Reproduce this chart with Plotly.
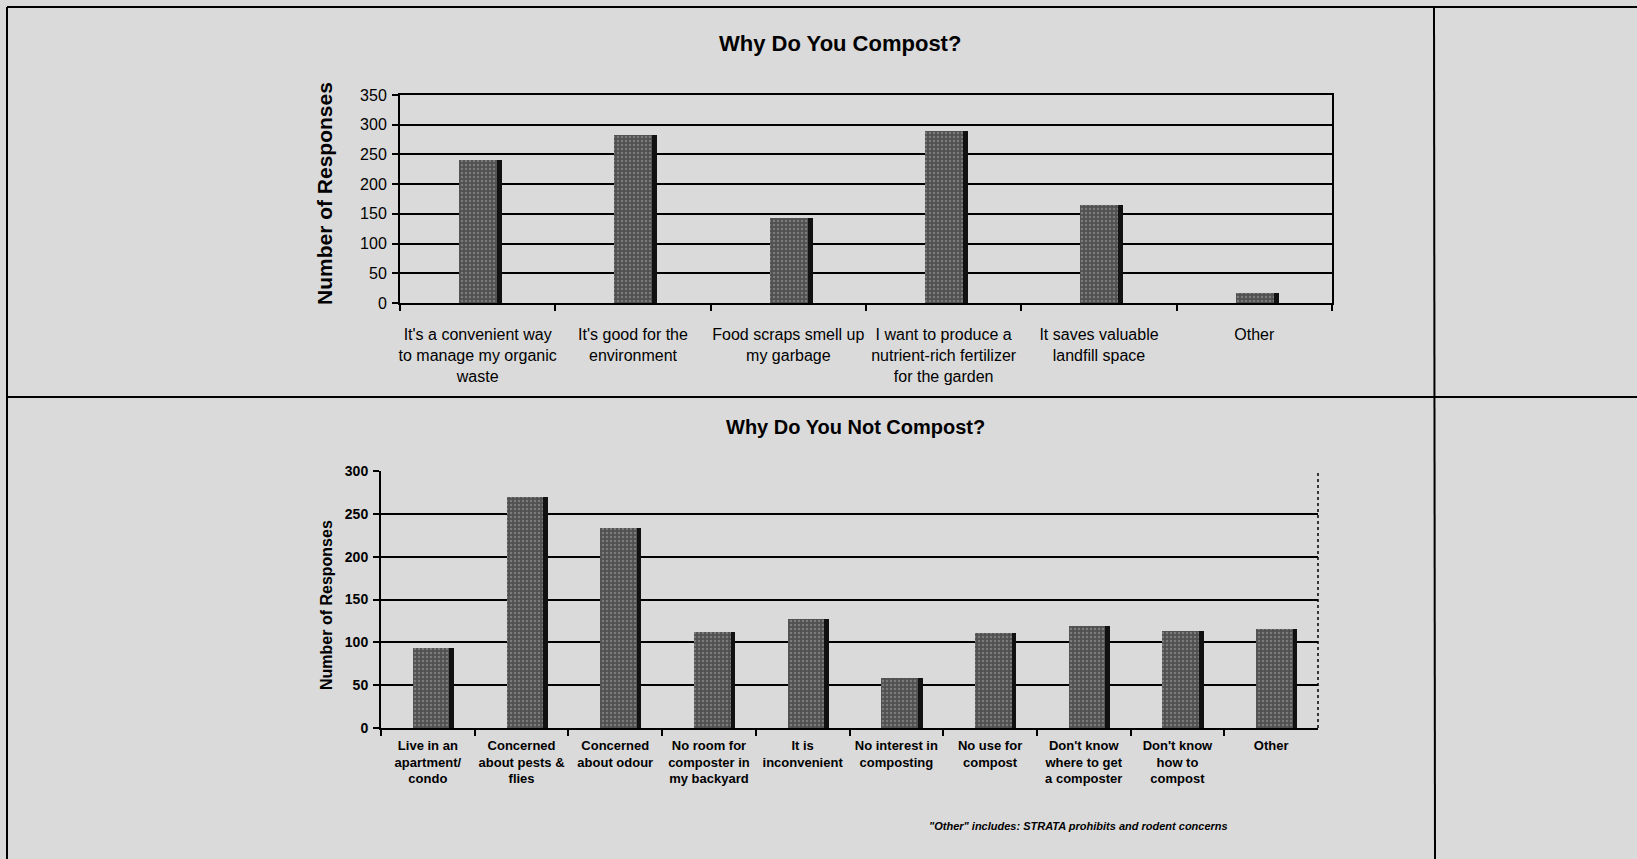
import plotly.graph_objects as go

W, H = 1637, 859

# ---- data ----
why_cats = [
    "It's a convenient way<br>to manage my organic<br>waste",
    "It's good for the<br>environment",
    "Food scraps smell up<br>my garbage",
    "I want to produce a<br>nutrient-rich fertilizer<br>for the garden",
    "It saves valuable<br>landfill space",
    "Other",
]
why_vals = [240, 282, 143, 290, 165, 17]
why_yticks = [0, 50, 100, 150, 200, 250, 300, 350]

whynot_cats = [
    "Live in an<br>apartment/<br>condo",
    "Concerned<br>about pests &<br>flies",
    "Concerned<br>about odour",
    "No room for<br>composter in<br>my backyard",
    "It is<br>inconvenient",
    "No interest in<br>composting",
    "No use for<br>compost",
    "Don't know<br>where to get<br>a composter",
    "Don't know<br>how to<br>compost",
    "Other",
]
whynot_vals = [93, 270, 234, 112, 127, 58, 111, 119, 113, 115]
whynot_yticks = [0, 50, 100, 150, 200, 250, 300]

title_top = "Why Do You Compost?"
title_bot = "Why Do You Not Compost?"
ytitle = "Number of Responses"
footnote = "\"Other\" includes: STRATA prohibits and rodent concerns"

# ---- styles ----
SANS = "Liberation Sans, Arial, sans-serif"
BG = "#dadada"
BAR_FILL = "#505050"
BAR_DOT = "#a6a6a6"
EDGE = "#111111"

def px(x):
    return x / W

def py(y):
    return 1 - y / H

fig = go.Figure()

bar_pattern = dict(shape=".", fgcolor=BAR_DOT, size=4, solidity=0.3)

# top chart
fig.add_trace(go.Bar(x=why_cats, y=why_vals, xaxis="x", yaxis="y",
                     width=0.245, offset=-0.12,
                     marker=dict(color=BAR_FILL, pattern=bar_pattern, line=dict(width=0)),
                     showlegend=False, hoverinfo="skip"))
fig.add_trace(go.Bar(x=why_cats, y=why_vals, xaxis="x", yaxis="y",
                     width=0.032, offset=0.125,
                     marker=dict(color=EDGE, line=dict(width=0)),
                     showlegend=False, hoverinfo="skip"))
# bottom chart
fig.add_trace(go.Bar(x=whynot_cats, y=whynot_vals, xaxis="x2", yaxis="y2",
                     width=0.39, offset=-0.16,
                     marker=dict(color=BAR_FILL, pattern=bar_pattern, line=dict(width=0)),
                     showlegend=False, hoverinfo="skip"))
fig.add_trace(go.Bar(x=whynot_cats, y=whynot_vals, xaxis="x2", yaxis="y2",
                     width=0.05, offset=0.23,
                     marker=dict(color=EDGE, line=dict(width=0)),
                     showlegend=False, hoverinfo="skip"))

common_x = dict(type="category", showline=True, linecolor="black", linewidth=2,
                ticks="outside", tickson="boundaries", ticklen=6, tickcolor="black",
                tickwidth=1.5, showgrid=False, zeroline=False, fixedrange=True,
                tickangle=0, automargin=False)
common_y = dict(showline=True, linecolor="black", linewidth=2, ticks="outside",
                ticklen=6, tickcolor="black", tickwidth=1.5, showgrid=True,
                gridcolor="black", gridwidth=2, zeroline=False, fixedrange=True,
                automargin=False)

fig.update_layout(
    width=W, height=H, autosize=False,
    margin=dict(l=0, r=0, t=0, b=0, pad=0, autoexpand=False),
    paper_bgcolor=BG, plot_bgcolor="rgba(0,0,0,0)",
    barmode="overlay", bargap=0,
    xaxis=dict(domain=[px(400), px(1332)], anchor="y", range=[-0.5, len(why_cats) - 0.5],
               tickfont=dict(family=SANS, size=16, color="black"),
               ticklabelstandoff=16, mirror=True, **common_x),
    yaxis=dict(domain=[py(303), py(95)], anchor="x", range=[0, 350], tickvals=why_yticks,
               tickfont=dict(family=SANS, size=16, color="black"),
               mirror=True, ticklabelstandoff=2, **common_y),
    xaxis2=dict(domain=[px(381), px(1318)], anchor="y2", range=[-0.5, len(whynot_cats) - 0.5],
                tickfont=dict(family=SANS, size=13, color="black", weight="bold"),
                ticklabelstandoff=4, **common_x),
    yaxis2=dict(domain=[py(728), py(471)], anchor="x2", range=[0, 300], tickvals=whynot_yticks,
                tickfont=dict(family=SANS, size=14, color="black", weight="bold"),
                ticklabelstandoff=2, **common_y),
)

annotations = [
    dict(text=title_top, x=px(840), y=py(44), xref="paper", yref="paper",
         showarrow=False, xanchor="center", yanchor="middle",
         font=dict(family=SANS, size=22, color="black", weight="bold")),
    dict(text=title_bot, x=px(855), y=py(427), xref="paper", yref="paper",
         showarrow=False, xanchor="center", yanchor="middle",
         font=dict(family=SANS, size=20, color="black", weight="bold")),
    dict(text=ytitle, x=px(325), y=py(194), xref="paper", yref="paper",
         showarrow=False, xanchor="center", yanchor="middle", textangle=-90,
         font=dict(family=SANS, size=21, color="black", weight="bold")),
    dict(text=ytitle, x=px(326), y=py(605), xref="paper", yref="paper",
         showarrow=False, xanchor="center", yanchor="middle", textangle=-90,
         font=dict(family=SANS, size=16, color="black", weight="bold")),
    dict(text=footnote, x=px(1230), y=py(826), xref="paper", yref="paper",
         showarrow=False, xanchor="right", yanchor="middle",
         font=dict(family=SANS, size=11, color="black", weight="bold", style="italic")),
]
fig.update_layout(annotations=annotations)

line = dict(color="black", width=2)
shapes = [
    dict(type="line", xref="paper", yref="paper", x0=px(7), x1=1, y0=py(7), y1=py(7), line=line),
    dict(type="line", xref="paper", yref="paper", x0=px(7), x1=px(7), y0=py(7), y1=0, line=line),
    dict(type="line", xref="paper", yref="paper", x0=px(1434), x1=px(1435), y0=py(7), y1=0, line=line),
    dict(type="line", xref="paper", yref="paper", x0=px(7), x1=1, y0=py(397), y1=py(397), line=line),
    dict(type="line", xref="x2 domain", yref="y2 domain", x0=1, x1=1, y0=0, y1=1,
         line=dict(color="black", width=1.5, dash="dot")),
]
fig.update_layout(shapes=shapes)

fig.write_html(
    "out.html",
    config={"responsive": False, "displayModeBar": False},
    post_script="document.body.style.margin='0px';document.body.style.padding='0px';"
                "document.body.style.background='" + BG + "';",
)
